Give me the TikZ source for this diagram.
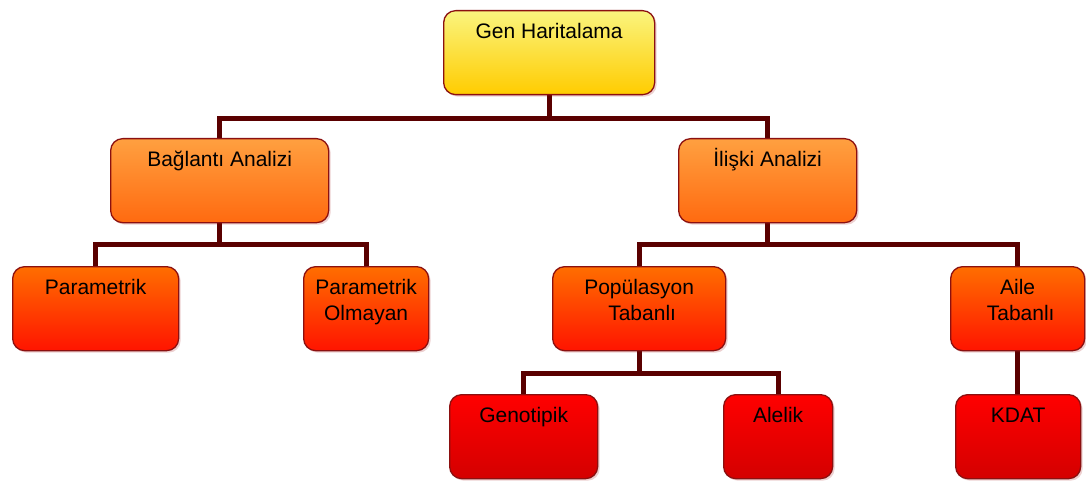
\documentclass[tikz,border=0pt]{standalone}
\usepackage{fontspec}
\setmainfont{Liberation Sans}
\usetikzlibrary{shadows,backgrounds}
\definecolor{edgered}{HTML}{8B1010}
\definecolor{conncol}{HTML}{5A0000}
\definecolor{yTop}{HTML}{FAF47E}
\definecolor{yBot}{HTML}{FFCC00}
\definecolor{oTop}{HTML}{FFA040}
\definecolor{oBot}{HTML}{FF6A10}
\definecolor{rTop}{HTML}{FF6E00}
\definecolor{rBot}{HTML}{FF1400}
\definecolor{dTop}{HTML}{FF0000}
\definecolor{dBot}{HTML}{D40000}
\newcommand{\boxtxt}[2]{\parbox[c][64pt][t]{#1}{\centering\strut #2}}
\tikzset{
  gbox/.style={draw=edgered, line width=1.3pt, rounded corners=12pt,
    inner xsep=0pt, inner ysep=10pt, anchor=north west,
    font=\fontsize{21}{26}\selectfont,
    drop shadow={shadow xshift=2pt, shadow yshift=-2pt, fill=red!60!black, opacity=0.18}},
  lvA/.style={gbox, top color=yTop, bottom color=yBot},
  lvB/.style={gbox, top color=oTop, bottom color=oBot},
  lvC/.style={gbox, top color=rTop, bottom color=rBot},
  lvD/.style={gbox, top color=dTop, bottom color=dBot},
  conn/.style={draw=conncol, line width=5pt}
}
\begin{document}
\begin{tikzpicture}[x=1pt,y=-1pt]
\useasboundingbox (0,0) rectangle (1086,481);
% nodes
\node[lvA] (gen) at (443,10) {\boxtxt{211pt}{Gen Haritalama}};
\node[lvB] (bag) at (110,138) {\boxtxt{218pt}{Bağlantı Analizi}};
\node[lvB] (ili) at (678,138) {\boxtxt{178pt}{İlişki Analizi}};
\node[lvC] (par) at (12,266) {\boxtxt{166pt}{Parametrik}};
\node[lvC] (paro) at (303,266) {\boxtxt{125pt}{Parametrik\\Olmayan}};
\node[lvC] (pop) at (552,266) {\boxtxt{173pt}{Popülasyon\\\hspace*{6pt}Tabanlı}};
\node[lvC] (aile) at (950,266) {\boxtxt{134pt}{Aile\\\hspace*{6pt}Tabanlı}};
\node[lvD] (geno) at (449,394) {\boxtxt{148pt}{Genotipik}};
\node[lvD] (alel) at (723,394) {\boxtxt{109pt}{Alelik}};
\node[lvD] (kdat) at (955,394) {\boxtxt{125pt}{KDAT}};
% connectors
\begin{scope}[on background layer]
\draw[conn] (gen.south) -- ++(0,23) -| (bag.north);
\draw[conn] (gen.south) -- ++(0,23) -| (ili.north);
\draw[conn] (bag.south) -- ++(0,21) -| (par.north);
\draw[conn] (bag.south) -- ++(0,21) -| (paro.north);
\draw[conn] (ili.south) -- ++(0,21) -| (pop.north);
\draw[conn] (ili.south) -- ++(0,21) -| (aile.north);
\draw[conn] (pop.south) -- ++(0,22) -| (geno.north);
\draw[conn] (pop.south) -- ++(0,22) -| (alel.north);
\draw[conn] (aile.south) -- (aile.south |- kdat.north);
\end{scope}
\end{tikzpicture}
\end{document}
